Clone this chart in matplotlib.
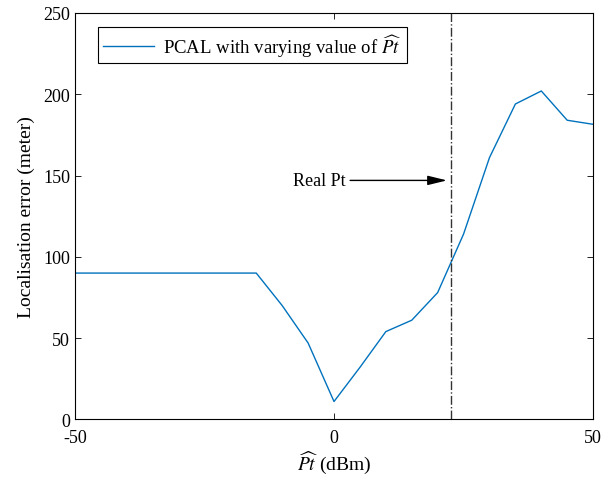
import matplotlib
matplotlib.use("Agg")
import matplotlib.pyplot as plt

plt.rcParams.update({
    "font.family": "serif",
    "font.serif": ["Liberation Serif", "DejaVu Serif"],
    "mathtext.fontset": "stix",
    "axes.unicode_minus": False,
    "xtick.direction": "in",
    "ytick.direction": "in",
    "xtick.top": True,
    "ytick.right": True,
})

pt_hat = [-50, -45, -40, -35, -30, -25, -20, -15, -10, -5, 0, 5, 10, 15, 20, 25, 30, 35, 40, 45, 50]
loc_err = [90, 90, 90, 90, 90, 90, 90, 90, 70, 47, 11, 32, 54, 61, 78, 114, 161, 194, 202, 184, 181.5]
real_pt = 22.6

fig = plt.figure(figsize=(6.04, 4.81), dpi=100)
ax = fig.add_axes([0.124, 0.126, 0.858, 0.845])

ax.plot(pt_hat, loc_err, color="#0072BD", lw=1.0,
        label=r"PCAL with varying value of $\widehat{Pt}$")
ax.axvline(real_pt, color="#333333", lw=1.0, linestyle="-.")

ax.annotate("Real Pt", xy=(real_pt - 0.8, 147), xytext=(2.3, 147),
            fontsize=13, va="center", ha="right",
            arrowprops=dict(arrowstyle="-|>,head_length=0.9,head_width=0.22",
                            color="black", lw=1.0,
                            shrinkA=1, shrinkB=0))

ax.set_xlim(-50, 50)
ax.set_ylim(0, 250)
ax.set_xticks([-50, 0, 50])
ax.set_yticks([0, 50, 100, 150, 200, 250])
ax.tick_params(labelsize=13, length=4, width=0.6)
ax.tick_params(axis="x", pad=7)
for s in ax.spines.values():
    s.set_linewidth(0.8)

ax.set_xlabel(r"$\widehat{Pt}$ (dBm)", fontsize=14, labelpad=2)
ax.set_ylabel("Localisation error (meter)", fontsize=14, labelpad=6)

leg = ax.legend(loc="upper left", bbox_to_anchor=(0.045, 0.965), fontsize=13.5,
                fancybox=False, edgecolor="black", framealpha=1,
                handlelength=2.7, handletextpad=0.5, borderpad=0.25,
                borderaxespad=0)
leg.get_frame().set_linewidth(0.8)

fig.savefig("out.png", dpi=100)
